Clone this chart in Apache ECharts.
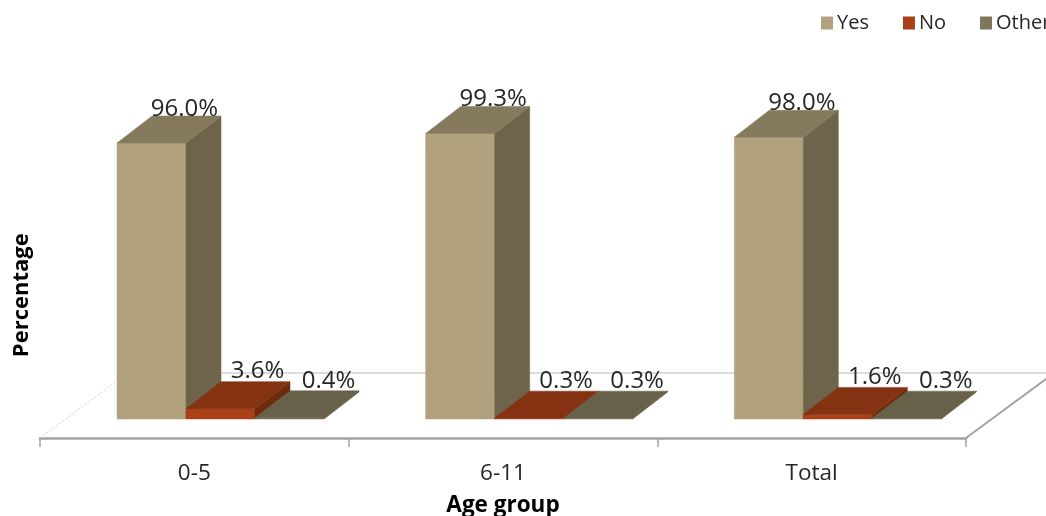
<!DOCTYPE html>
<html>
<head>
<meta charset="utf-8">
<style>html,body{margin:0;padding:0;background:#fff}#chart{width:1046px;height:516px}</style>
<script src="https://cdn.jsdelivr.net/npm/echarts@6/dist/echarts.min.js"></script>
</head>
<body>
<div id="chart"></div>
<script>
// Survey response share by age group
var categories = ['0-5', '6-11', 'Total'];
var yesValues = [96.0, 99.3, 98.0];
var noValues = [3.6, 0.3, 1.6];
var otherValues = [0.4, 0.3, 0.3];

var FONT = '"Open Sans", sans-serif';
var BAR_W = 69;          // column width on screen
var DEPTH_X = 35;        // column depth projection
var DEPTH_Y = 27;
var FLOOR_X = 88;        // floor depth projection
var FLOOR_Y = 65;
var FRONT_INSET = 77;    // band edge to first column
var FRONT_RISE = 19;     // axis line sits below the columns' base

function poly(points, fill) {
  return { type: 'polygon', shape: { points: points }, style: { fill: fill, stroke: fill, lineWidth: 0.5 } };
}

// One extruded column with its value on top
function columnRenderer(slot, faces) {
  return function (params, api) {
    var idx = api.value(0), val = api.value(1);
    var band = api.size([1, 0])[0];
    var base = api.coord([idx, 0]);
    var top = api.coord([idx, val]);
    var x0 = base[0] - band / 2 + FRONT_INSET + slot * BAR_W;
    var x1 = x0 + BAR_W;
    var yb = base[1], yt = top[1];
    return {
      type: 'group',
      children: [
        poly([[x0, yb], [x1, yb], [x1, yt], [x0, yt]], faces.front),
        poly([[x1, yb], [x1 + DEPTH_X, yb - DEPTH_Y], [x1 + DEPTH_X, yt - DEPTH_Y], [x1, yt]], faces.side),
        poly([[x0, yt], [x1, yt], [x1 + DEPTH_X, yt - DEPTH_Y], [x0 + DEPTH_X, yt - DEPTH_Y]], faces.top),
        {
          type: 'text',
          z2: 10,
          style: {
            x: (x0 + x1) / 2 + DEPTH_X + faces.labelDx,
            y: yt - DEPTH_Y + faces.labelDy,
            text: val.toFixed(1) + '%',
            fill: '#262626',
            font: '24px ' + FONT,
            align: 'center',
            verticalAlign: 'bottom'
          }
        }
      ]
    };
  };
}

// Floor outline behind the columns: dotted left edge, back line, right edge
function floorRenderer(params, api) {
  var band = api.size([1, 0])[0];
  var base = api.coord([0, 0]);
  var left = base[0] - band / 2;
  var right = left + band * categories.length;
  var front = base[1] + FRONT_RISE;
  var back = front - FLOOR_Y;
  return {
    type: 'group',
    children: [
      { type: 'line', shape: { x1: left, y1: front, x2: left + FLOOR_X, y2: back },
        style: { stroke: '#cfcfcf', lineWidth: 1, lineDash: [2, 2] } },
      { type: 'line', shape: { x1: left + FLOOR_X, y1: back, x2: right + FLOOR_X, y2: back },
        style: { stroke: '#dcdcdc', lineWidth: 2 } },
      { type: 'line', shape: { x1: right, y1: front, x2: right + FLOOR_X, y2: back },
        style: { stroke: '#a3a3a3', lineWidth: 2 } }
    ]
  };
}

function toPairs(values) {
  return values.map(function (v, i) { return [i, v]; });
}

function columnSeries(name, values, slot, faces) {
  return {
    type: 'custom',
    name: name,
    renderItem: columnRenderer(slot, faces),
    data: toPairs(values),
    encode: { x: 0, y: 1 },
    itemStyle: { color: faces.legend },
    silent: true
  };
}

var chart = echarts.init(document.getElementById('chart'), null, { renderer: 'canvas' });
chart.setOption({
  animation: false,
  backgroundColor: '#fff',
  grid: { left: 40, right: 80, top: 131.5, height: 287.5, outerBoundsMode: 'none' },
  legend: {
    data: ['Yes', 'No', 'Other'],
    left: 821,
    top: 13,
    width: 400,
    padding: 0,
    itemWidth: 12,
    itemHeight: 13,
    itemGap: 34,
    icon: 'rect',
    textStyle: { fontFamily: FONT, fontSize: 20, color: '#262626', padding: [0, 0, 0, -1] }
  },
  xAxis: {
    type: 'category',
    data: categories,
    offset: 19,
    axisLine: { onZero: false, lineStyle: { color: '#a3a3a3', width: 2.5 } },
    axisTick: { show: true, length: 9, lineStyle: { color: '#a3a3a3', width: 1.5 } },
    axisLabel: { margin: 24, fontFamily: FONT, fontSize: 22.5, color: '#262626' },
    name: 'Age group',
    nameLocation: 'middle',
    nameGap: 56,
    nameTextStyle: { fontFamily: FONT, fontWeight: 'bold', fontSize: 22.5, color: '#000' }
  },
  yAxis: {
    type: 'value',
    min: 0,
    max: 100,
    axisLine: { show: false },
    axisTick: { show: false },
    axisLabel: { show: false },
    splitLine: { show: false },
    name: 'Percentage',
    nameLocation: 'middle',
    nameGap: 7,
    nameTextStyle: { fontFamily: FONT, fontWeight: 'bold', fontSize: 22, color: '#000', padding: [0, 40, 0, 0] }
  },
  series: [
    { type: 'custom', name: 'floor', renderItem: floorRenderer, data: [[0, 0]], encode: { x: 0, y: 1 }, silent: true },
    columnSeries('Yes', yesValues, 0, { front: '#b1a17c', side: '#6e634b', top: '#857a5e', legend: '#b1a17c', labelDx: -2, labelDy: 5 }),
    columnSeries('No', noValues, 1, { front: '#a94119', side: '#6f2b0e', top: '#843211', legend: '#a94119', labelDx: 2, labelDy: 2 }),
    columnSeries('Other', otherValues, 2, { front: '#7f7659', side: '#5a5340', top: '#68614a', legend: '#7f7659', labelDx: 4, labelDy: 2 })
  ]
});
</script>
</body>
</html>
